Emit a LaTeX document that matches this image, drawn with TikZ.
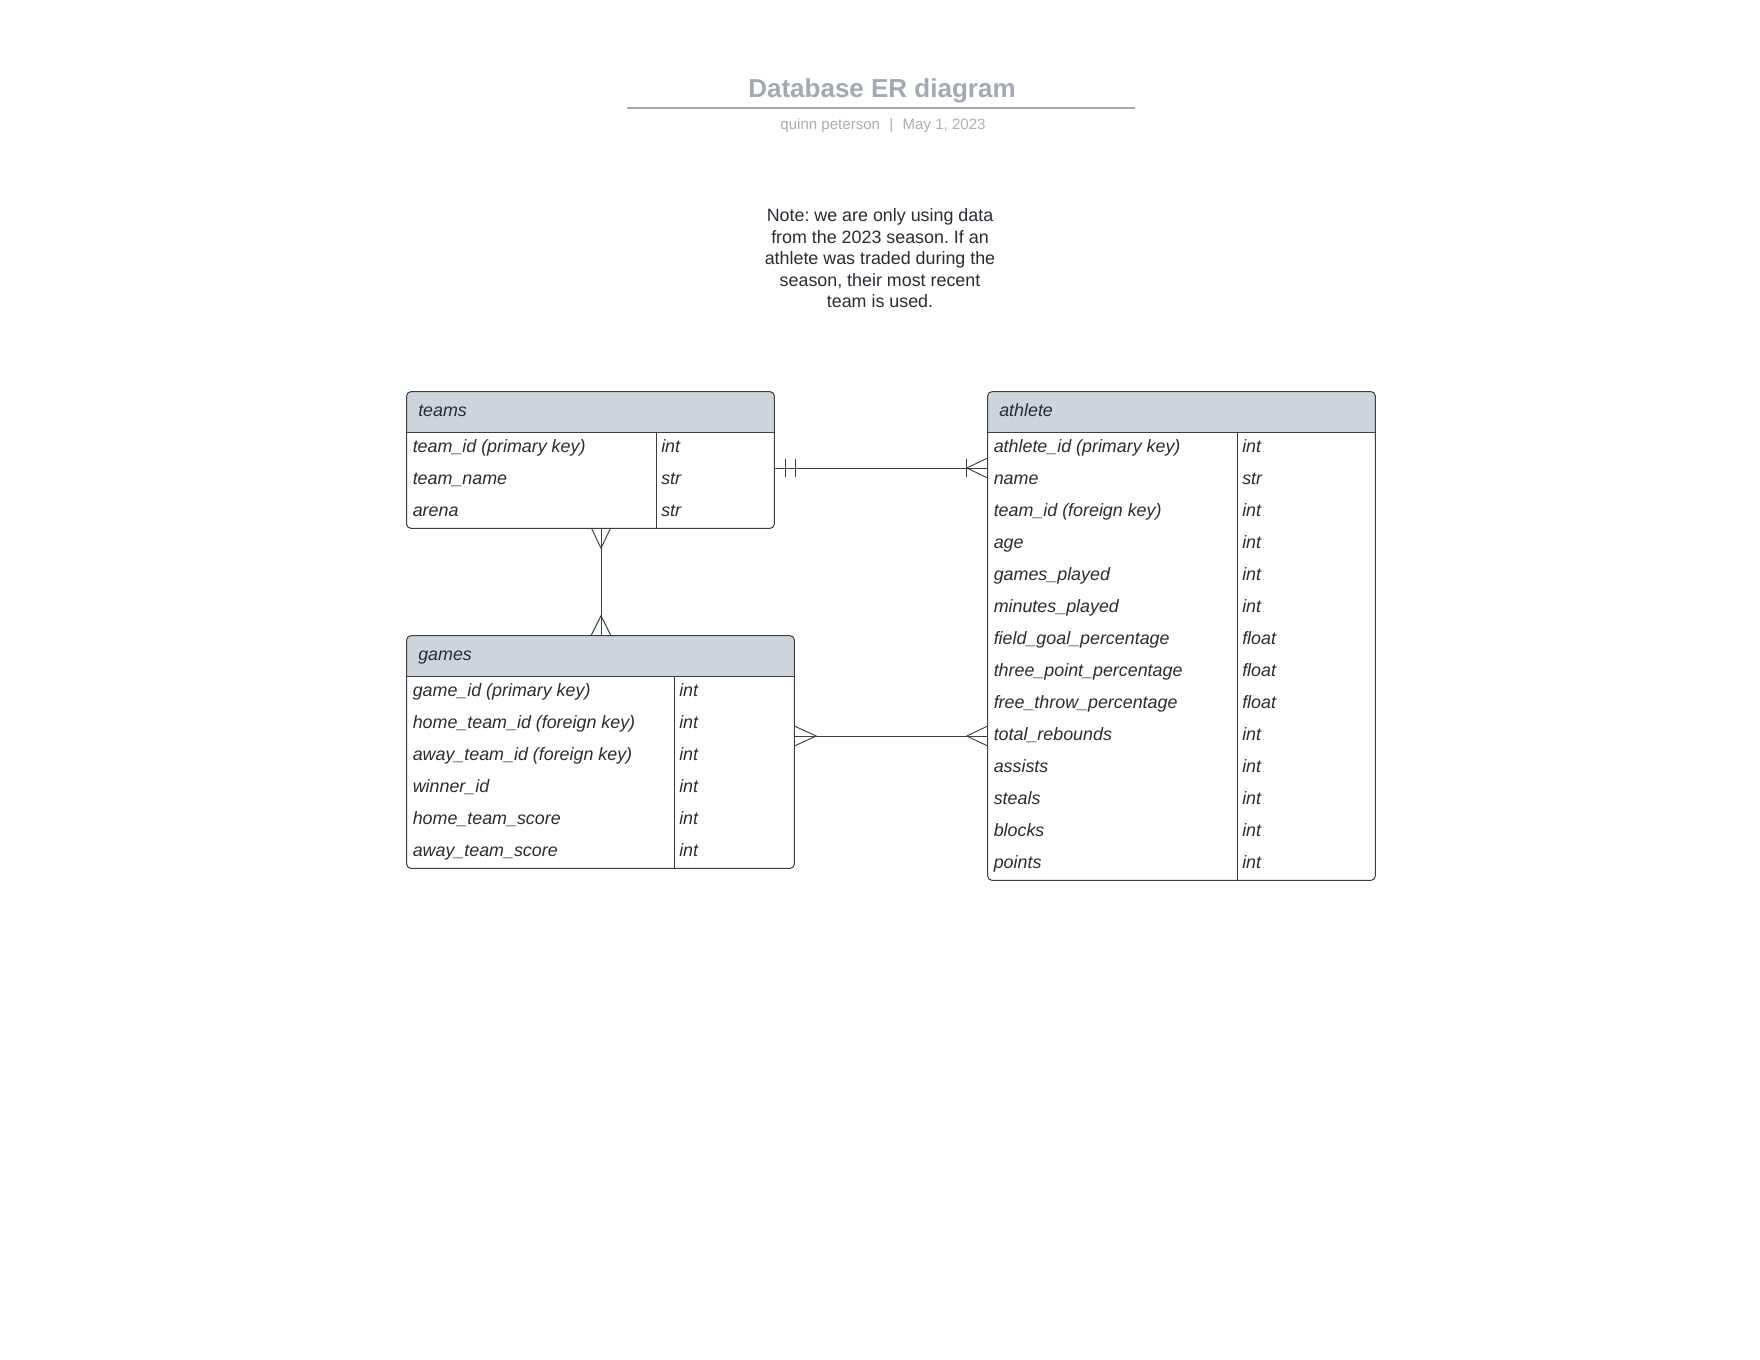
\documentclass[tikz,border=0pt]{standalone}
\usepackage{fontspec}
\setmainfont{Liberation Sans}
\usetikzlibrary{calc,fit}
\frenchspacing

\definecolor{linec}{HTML}{3A3F47}
\definecolor{headfill}{HTML}{CED4DC}
\definecolor{txt}{HTML}{282C33}
\definecolor{titlec}{HTML}{A3A9B3}
\definecolor{subc}{HTML}{A9AEB6}

% \ertable{name}{left}{top}{right}{divider}{rows}{title}{field/type list}
\newcommand{\ertable}[8]{%
  \pgfmathsetmacro{\erbot}{#3+40+32*#6}
  \coordinate (#1-nw) at (#2,#3);
  \coordinate (#1-se) at (#4,\erbot);
  \node[inner sep=0pt, fit=(#1-nw)(#1-se)] (#1) {};
  \fill[headfill, rounded corners=3pt] (#2,#3) rectangle (#4,#3+40);
  \fill[headfill] (#2,#3+20) rectangle (#4,#3+40);
  \draw[grid] (#2,#3+40) -- (#4,#3+40);
  \draw[grid] (#5,#3+40) -- (#5,\erbot);
  \draw[tablebox] (#1.north west) rectangle (#1.south east);
  \node[rowtext] (#1-title) at (#2+11,#3+24) {#7};
  \foreach \f/\t [count=\i] in {#8} {
    \node[rowtext] (#1-f\i) at (#2+5.5,#3+40+32*\i-12) {\f};
    \node[rowtext] (#1-t\i) at (#5+5,#3+40+32*\i-12) {\t};
  }%
}

\begin{document}
\begin{tikzpicture}[x=0.75pt,y=-0.75pt, line join=round,
  rowtext/.style={anchor=base west, inner sep=0pt, text=txt,
    font=\fontsize{13.4}{16}\selectfont\itshape},
  tablebox/.style={draw=linec, line width=0.75pt, rounded corners=3pt},
  grid/.style={draw=linec, line width=0.75pt},
  conn/.style={draw=linec, line width=0.7pt}]
\useasboundingbox[fill=white] (0,0) rectangle (1760,1360);

% heading
\node[anchor=base, inner sep=0pt, text=titlec,
  font=\fontsize{19.5}{22}\selectfont\bfseries] (title) at (882,97.5) {Database ER diagram};
\coordinate (ulL) at (627,108);
\coordinate (ulR) at (1135,108);
\draw[titlec, line width=1.1pt] (ulL) -- (ulR);
\node[anchor=base, inner sep=0pt, text=subc,
  font=\fontsize{11.3}{13}\selectfont] (byline) at (883,129.5)
  {quinn peterson\hspace{7pt}|\hspace{7pt}May 1, 2023};

% note
\node[anchor=north, align=center, inner sep=0pt, text=txt,
  font=\fontsize{13.4}{16.1}\selectfont] (note) at (880,208.5)
  {Note: we are only using data\\from the 2023 season. If an\\athlete was traded during the\\season, their most recent\\team is used.};

% tables
\ertable{teams}{407}{392}{774}{656}{3}{teams}{%
  team\_id (primary key)/int, team\_name/str, arena/str}
\ertable{games}{407}{636}{794}{674}{6}{games}{%
  game\_id (primary key)/int, home\_team\_id (foreign key)/int,
  away\_team\_id (foreign key)/int, winner\_id/int,
  home\_team\_score/int, away\_team\_score/int}
\ertable{athlete}{988}{392}{1375}{1237}{14}{athlete}{%
  athlete\_id (primary key)/int, name/str, team\_id (foreign key)/int,
  age/int, games\_played/int, minutes\_played/int,
  field\_goal\_percentage/float, three\_point\_percentage/float,
  free\_throw\_percentage/float, total\_rebounds/int, assists/int,
  steals/int, blocks/int, points/int}

% relationships
\coordinate (yA) at (0,468);
\coordinate (yB) at (0,736);
\coordinate (xV) at (601,0);

% teams -- athlete: exactly one to one-or-many
\coordinate (ta1) at (teams.east |- yA);
\coordinate (ta2) at (athlete.west |- yA);
\draw[conn] (ta1) -- (ta2);
\draw[conn] ($(ta1)+(11,-9)$) -- ($(ta1)+(11,9)$);
\draw[conn] ($(ta1)+(21,-9)$) -- ($(ta1)+(21,9)$);
\draw[conn] ($(ta2)+(0,-10)$) -- ($(ta2)+(-21,0)$) -- ($(ta2)+(0,10)$);
\draw[conn] ($(ta2)+(-21,-9)$) -- ($(ta2)+(-21,9)$);

% teams -- games: many to many
\coordinate (tg1) at (teams.south -| xV);
\coordinate (tg2) at (games.north -| xV);
\draw[conn] (tg1) -- (tg2);
\draw[conn] ($(tg1)+(-9.5,0)$) -- ($(tg1)+(0,20)$) -- ($(tg1)+(9.5,0)$);
\draw[conn] ($(tg2)+(-10,0)$) -- ($(tg2)+(0,-20)$) -- ($(tg2)+(10,0)$);

% games -- athlete: many to many
\coordinate (ga1) at (games.east |- yB);
\coordinate (ga2) at (athlete.west |- yB);
\draw[conn] (ga1) -- (ga2);
\draw[conn] ($(ga1)+(0,-10)$) -- ($(ga1)+(22,0)$) -- ($(ga1)+(0,10)$);
\draw[conn] ($(ga2)+(0,-10)$) -- ($(ga2)+(-21,0)$) -- ($(ga2)+(0,10)$);
\end{tikzpicture}
\end{document}
